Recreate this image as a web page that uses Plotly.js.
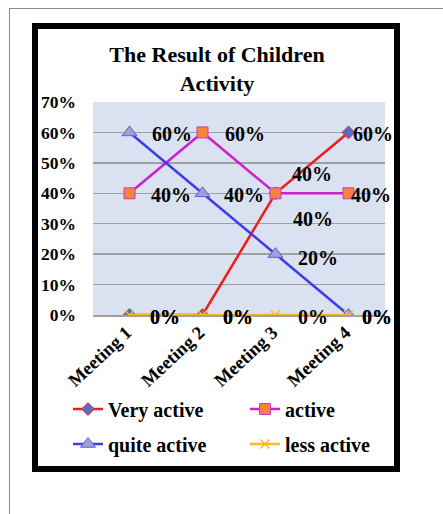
<!DOCTYPE html>
<html>
<head>
<meta charset="utf-8">
<script src="https://cdn.plot.ly/plotly-3.0.1.min.js"></script>
<style>
html,body{margin:0;padding:0;background:#fff;}
#wrap{position:relative;width:443px;height:514px;overflow:hidden;}
#chart{position:absolute;left:0;top:0;width:443px;height:514px;}
#frame{position:absolute;left:9px;top:8px;width:600px;height:600px;border-top:1px solid #8c8c8c;border-left:1px solid #8c8c8c;pointer-events:none;}
</style>
</head>
<body>
<div id="wrap"><div id="chart"></div><div id="frame"></div></div>
<script>
// ---- data ----
const categories = ['Meeting 1', 'Meeting 2', 'Meeting 3', 'Meeting 4'];
const seriesNames = ['Very active', 'active', 'quite active', 'less active'];
const veryActive = [0, 0, 40, 60];
const active = [40, 60, 40, 40];
const quiteActive = [60, 40, 20, 0];
const lessActive = [0, 0, 0, 0];
const yTicks = [0, 10, 20, 30, 40, 50, 60, 70];

// ---- layout geometry (px) ----
const W = 443, H = 514;
const M = {l: 93, r: 58, t: 102, b: 199};
const PW = W - M.l - M.r, PH = H - M.t - M.b;
const px = x => (x - M.l) / PW;
const py = y => (H - M.b - y) / PH;

const FONT = 'Liberation Serif, Times New Roman, serif';

// ---- styles ----
const styles = [
  {line: '#ee1c1c', marker: {symbol: 'diamond', size: 10, color: '#5a6cc0', line: {color: '#e03a3a', width: 1}}},
  {line: '#cc22cc', marker: {symbol: 'square', size: 11, color: '#f7823c', line: {color: '#c040c0', width: 1}}},
  {line: '#3b3bf0', marker: {symbol: 'triangle-up', size: 13, color: '#9ea0d2', line: {color: '#6060e0', width: 1}}},
  {line: '#fbbb22', marker: {symbol: 'x-thin', size: 9, color: '#fbbb22', line: {color: '#fbbb22', width: 1.5}}}
];
// label offsets (px) per series per point
const labelDX = [[35, 35, 36, 24], [41, 42, 37, 22], [42, 41, 42, 28], [35, 35, 37, 28]];
const labelDY = [[-2, -2, 19, -2], [-2, -2, -26, -2], [-2, -2, -4, -2], [-2, -2, -2, -2]];

const values = [veryActive, active, quiteActive, lessActive];
const legendIds = ['legend', 'legend', 'legend2', 'legend2'];

const traces = values.map((vals, i) => ({
  type: 'scatter',
  mode: 'lines+markers',
  name: seriesNames[i],
  x: categories,
  y: vals,
  line: {color: styles[i].line, width: 2.5},
  marker: styles[i].marker,
  legend: legendIds[i],
  hoverinfo: 'skip'
}));

const annotations = [];
values.forEach((vals, i) => {
  vals.forEach((v, j) => {
    annotations.push({
      x: categories[j], y: v, xref: 'x', yref: 'y',
      text: v + '%', showarrow: false,
      xanchor: 'center', yanchor: 'middle',
      xshift: labelDX[i][j], yshift: labelDY[i][j],
      font: {family: FONT, size: 20, color: '#000', weight: 'bold'}
    });
  });
});

const shapes = [
  {type: 'rect', xref: 'paper', yref: 'paper', x0: px(35), y0: py(26), x1: px(397), y1: py(469), line: {color: '#000', width: 6}, fillcolor: 'rgba(0,0,0,0)', layer: 'below'}
];

const layout = {
  width: W, height: H, autosize: false,
  margin: {l: M.l, r: M.r, t: M.t, b: M.b, autoexpand: false},
  paper_bgcolor: '#fff',
  plot_bgcolor: '#dae1f1',
  showlegend: true,
  title: {
    text: 'The Result of Children<br>Activity',
    font: {family: FONT, size: 22, color: '#000', weight: 'bold'},
    xref: 'container', yref: 'container',
    x: 217 / W, xanchor: 'center',
    y: 1 - 62 / H, yanchor: 'top'
  },
  xaxis: {
    type: 'category',
    range: [-0.5, 3.5],
    showgrid: false,
    showline: true, linecolor: '#a0a0a0', linewidth: 1.5,
    ticks: '',
    tickangle: -43,
    ticklabelshift: -3,
    ticklabelstandoff: -2,
    tickfont: {family: FONT, size: 18.5, color: '#000', weight: 'bold'},
    zeroline: false,
    fixedrange: true
  },
  yaxis: {
    range: [0, 70],
    tickvals: yTicks,
    ticktext: yTicks.map(t => t + '%'),
    showgrid: true, gridcolor: '#a0a0a0', gridwidth: 1.5,
    zeroline: false,
    showline: false,
    ticks: '',
    ticklabelstandoff: 16,
    tickfont: {family: FONT, size: 17.5, color: '#000', weight: 'bold'},
    fixedrange: true
  },
  legend: {
    orientation: 'h', x: px(68), xanchor: 'left', y: py(409), yanchor: 'middle',
    entrywidth: 132, entrywidthmode: 'pixels',
    font: {family: FONT, size: 20, color: '#000', weight: 'bold'},
    bgcolor: 'rgba(0,0,0,0)', traceorder: 'normal'
  },
  legend2: {
    orientation: 'h', x: px(68), xanchor: 'left', y: py(444), yanchor: 'middle',
    entrywidth: 132, entrywidthmode: 'pixels',
    font: {family: FONT, size: 20, color: '#000', weight: 'bold'},
    bgcolor: 'rgba(0,0,0,0)', traceorder: 'normal'
  },
  annotations: annotations,
  shapes: shapes
};

Plotly.newPlot('chart', traces, layout, {displayModeBar: false, staticPlot: true});
</script>
</body>
</html>
